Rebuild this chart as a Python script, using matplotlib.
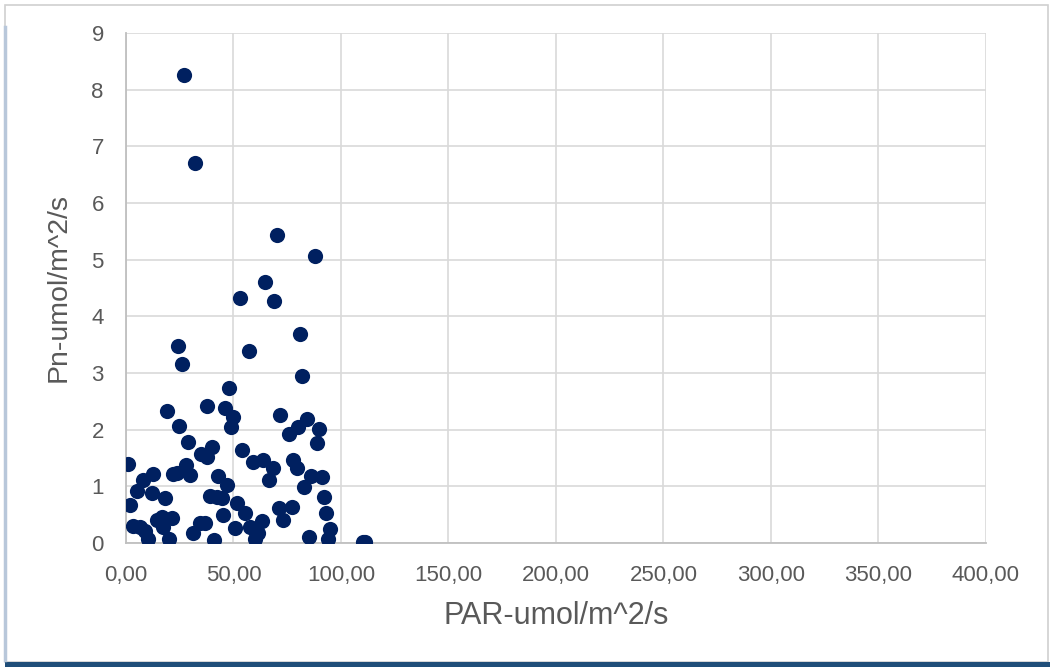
import matplotlib
matplotlib.use("Agg")
import matplotlib.pyplot as plt
from matplotlib.patches import Rectangle
from matplotlib.lines import Line2D

plt.rcParams['font.family'] = ['Liberation Sans', 'DejaVu Sans']

par = [27.0, 32.1, 70.1, 87.9, 64.8, 53.0, 68.8, 80.9, 24.0, 57.1,
       25.9, 82.0, 48.0, 18.9, 37.8, 46.0, 49.9, 48.7, 24.8, 71.6,
       84.0, 80.1, 76.0, 89.9, 89.0, 28.8, 39.9, 34.7, 37.5, 53.8,
       0.8, 12.7, 8.0, 22.0, 23.6, 27.9, 29.8, 42.9, 46.8, 58.9,
       63.9, 68.2, 66.7, 77.8, 79.4, 86.0, 91.0, 82.8, 92.1, 5.0,
       12.0, 18.1, 39.1, 42.2, 44.5, 1.9, 51.6, 45.0, 55.3, 50.7,
       3.4, 6.5, 8.8, 10.4, 14.3, 16.6, 21.3, 17.3, 20.0, 31.3,
       34.4, 36.7, 41.1, 57.7, 63.1, 61.5, 60.0, 71.3, 77.1, 73.2,
       93.0, 85.1, 94.9, 94.1, 111.2, 110.4]
pn = [8.26, 6.70, 5.44, 5.07, 4.61, 4.33, 4.27, 3.69, 3.48, 3.39,
      3.15, 2.95, 2.73, 2.33, 2.41, 2.38, 2.23, 2.05, 2.06, 2.26,
      2.18, 2.05, 1.92, 2.01, 1.77, 1.78, 1.70, 1.57, 1.51, 1.64,
      1.39, 1.21, 1.11, 1.22, 1.24, 1.38, 1.20, 1.18, 1.02, 1.42,
      1.46, 1.32, 1.11, 1.46, 1.32, 1.18, 1.17, 0.98, 0.81, 0.92,
      0.88, 0.79, 0.83, 0.81, 0.79, 0.67, 0.71, 0.49, 0.52, 0.26,
      0.30, 0.29, 0.21, 0.07, 0.41, 0.46, 0.44, 0.29, 0.07, 0.17,
      0.35, 0.36, 0.05, 0.29, 0.38, 0.17, 0.07, 0.61, 0.64, 0.41,
      0.53, 0.11, 0.24, 0.07, 0.01, 0.01]

x_ticks = [0, 50, 100, 150, 200, 250, 300, 350, 400]
x_labels = ["0,00", "50,00", "100,00", "150,00", "200,00", "250,00", "300,00", "350,00", "400,00"]
y_ticks = [0, 1, 2, 3, 4, 5, 6, 7, 8, 9]

x_title = "PAR-umol/m^2/s"
y_title = "Pn-umol/m^2/s"

fig = plt.figure(figsize=(10.5, 6.67), dpi=100)
ax = fig.add_axes([0.12, 0.186, 0.819, 0.7645])

ax.scatter(par, pn, s=120, color='#002060', zorder=3, linewidths=0)

ax.set_xlim(0, 400)
ax.set_ylim(0, 9)
ax.set_xticks(x_ticks)
ax.set_xticklabels(x_labels)
ax.set_yticks(y_ticks)
ax.grid(True, color='#d9d9d9', linewidth=1.2, zorder=0)
ax.set_axisbelow(True)
for s in ['top', 'right']:
    ax.spines[s].set_visible(False)
for s in ['left', 'bottom']:
    ax.spines[s].set_color('#bfbfbf')
    ax.spines[s].set_linewidth(1.3)
ax.tick_params(length=0, labelsize=16, colors='#595959')
ax.tick_params(axis='x', pad=16)
ax.tick_params(axis='y', pad=16)
ax.set_xlabel(x_title, fontsize=22, color='#595959', labelpad=11)
ax.set_ylabel(y_title, fontsize=20.5, color='#595959', labelpad=14)

# frame
fig.patches.append(Rectangle((0.005, 0.008), 0.993, 0.985, transform=fig.transFigure,
                             fill=False, edgecolor='#d0d0d0', linewidth=1.2))
fig.lines.append(Line2D([0.005, 0.005], [0.01, 0.96], transform=fig.transFigure,
                        color='#b8c7da', linewidth=2.5))
fig.patches.append(Rectangle((0.005, 0.0), 0.995, 0.008, transform=fig.transFigure,
                             facecolor='#1f4e79', edgecolor='none'))

fig.savefig('out.png', dpi=100)
